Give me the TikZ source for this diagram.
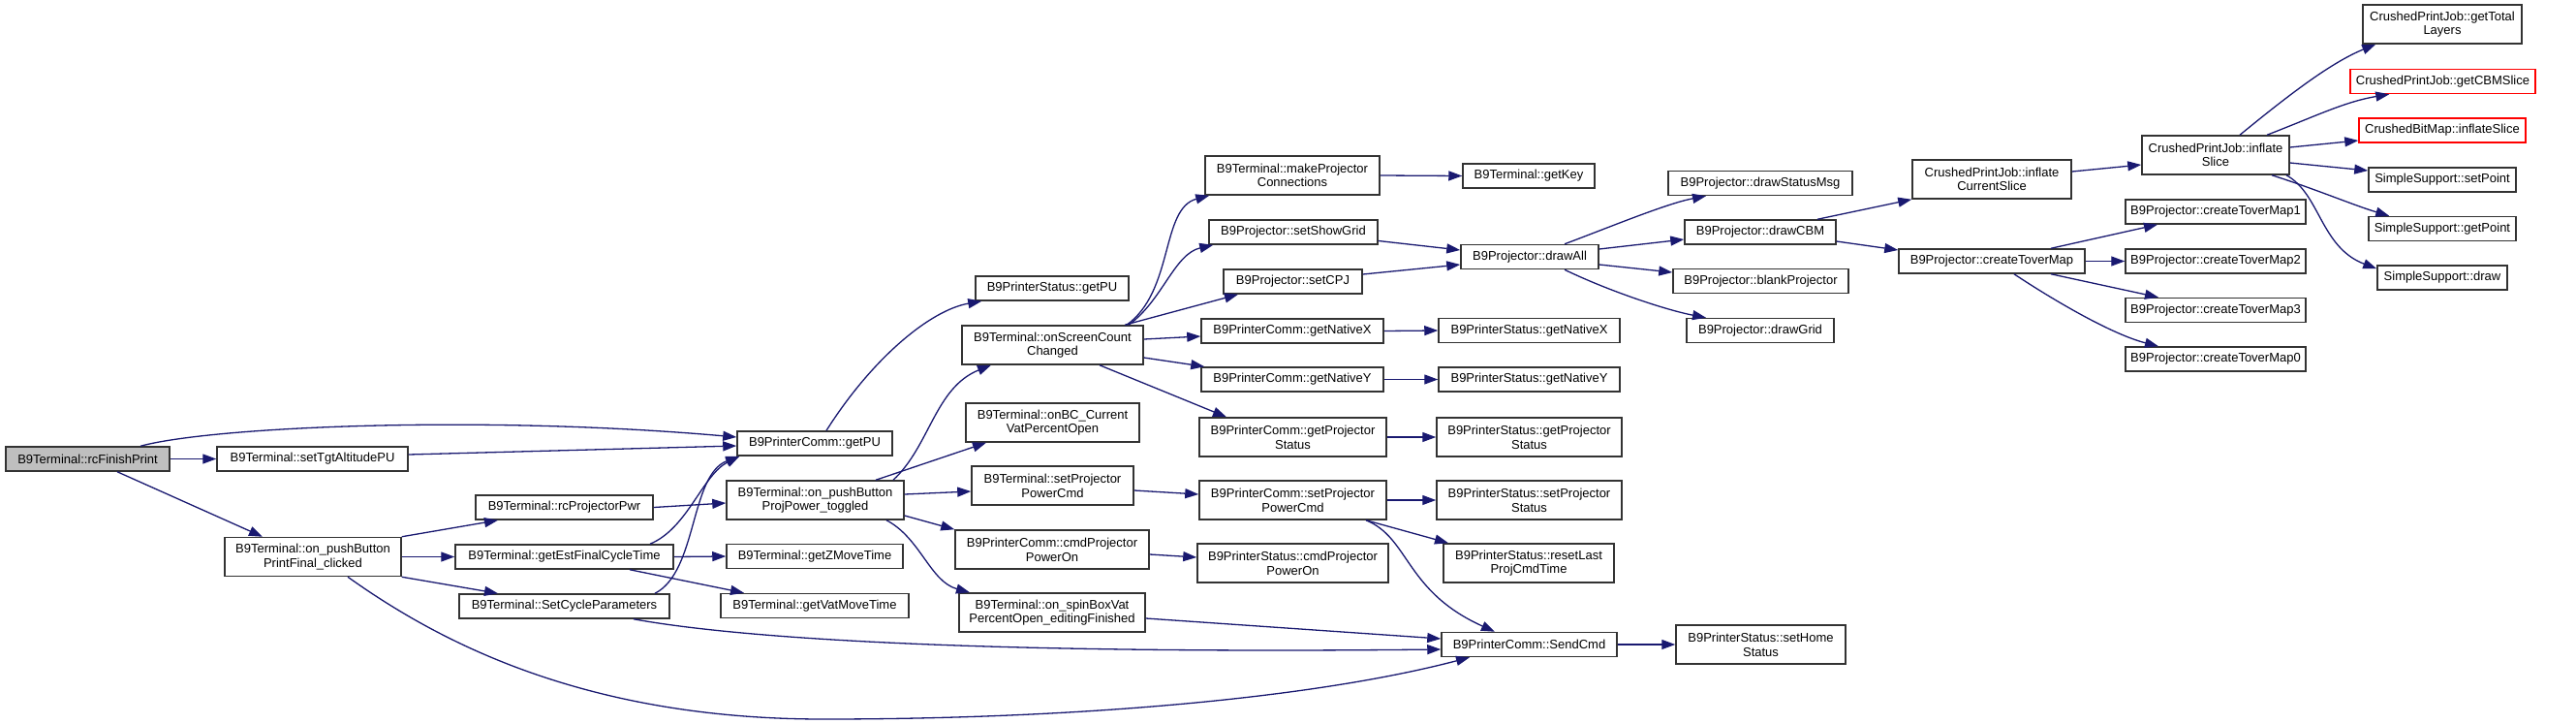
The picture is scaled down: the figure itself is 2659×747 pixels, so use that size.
\documentclass[tikz,border=0pt]{standalone}
\usepackage{fontspec}
\setmainfont{Liberation Sans}
\usetikzlibrary{arrows.meta}
\definecolor{edgec}{HTML}{191970}
\definecolor{boxc}{HTML}{333333}
\definecolor{grayfill}{HTML}{BFBFBF}
\definecolor{redc}{HTML}{FF0000}
\tikzset{
  fn/.style={draw=boxc, line width=1.5pt, rectangle, inner sep=0pt, align=center,
    font=\fontsize{13}{14.7}\selectfont, fill=white},
  one/.style={fn, minimum height=25pt},
  two/.style={fn, minimum height=40pt},
  redfn/.style={one, draw=redc},
  call/.style={draw=edgec, line width=1.3pt, -{Triangle[length=14pt,width=10pt]}}
}
\begin{document}
\begin{tikzpicture}[x=1pt,y=-1pt]
\path[use as bounding box] (0,0) rectangle (2659,747);
% column -2/-1/0
\node[one, fill=grayfill, minimum width=169pt] (rcFP) at (90.5,473.5) {B9Terminal::rcFinishPrint};
\node[one, minimum width=197pt] (setTgt) at (322.5,473.5) {B9Terminal::setTgtAltitudePU};
\node[two, minimum width=182pt] (printFinal) at (323,574.5) {B9Terminal::on\_pushButton\\PrintFinal\_clicked};
\node[one, minimum width=183pt] (rcPP) at (582.5,523.5) {B9Terminal::rcProjectorPwr};
\node[one, minimum width=225pt] (getEst) at (582.5,574.5) {B9Terminal::getEstFinalCycleTime};
\node[one, minimum width=217pt] (setCyc) at (582.5,625.5) {B9Terminal::SetCycleParameters};
% column 1
\node[one, minimum width=160pt] (getPU) at (841,457.5) {B9PrinterComm::getPU};
\node[two, minimum width=183pt] (ProjPower) at (841.5,516) {B9Terminal::on\_pushButton\\ProjPower\_toggled};
\node[one, minimum width=182pt] (getZMove) at (841,574) {B9Terminal::getZMoveTime};
\node[one, minimum width=194pt] (getVatMove) at (841,625) {B9Terminal::getVatMoveTime};
% column 2
\node[one, minimum width=158pt] (statusGetPU) at (1086,297.5) {B9PrinterStatus::getPU};
\node[two, minimum width=187pt] (onScreen) at (1086.5,356) {B9Terminal::onScreenCount\\Changed};
\node[two, minimum width=179pt] (onBC) at (1086.5,436) {B9Terminal::onBC\_Current\\VatPercentOpen};
\node[two, minimum width=167pt] (TsetPPC) at (1086.5,501) {B9Terminal::setProjector\\PowerCmd};
\node[two, minimum width=200pt] (CcmdPPO) at (1086,567) {B9PrinterComm::cmdProjector\\PowerOn};
\node[two, minimum width=192pt] (spinBox) at (1086,632) {B9Terminal::on\_spinBoxVat\\PercentOpen\_editingFinished};
% column 3
\node[two, minimum width=180pt] (makeProj) at (1334,181) {B9Terminal::makeProjector\\Connections};
\node[one, minimum width=174pt] (showGrid) at (1335,239.5) {B9Projector::setShowGrid};
\node[one, minimum width=143pt] (setCPJ) at (1334.5,290.5) {B9Projector::setCPJ};
\node[one, minimum width=188pt] (CgetNX) at (1334,341.5) {B9PrinterComm::getNativeX};
\node[one, minimum width=188pt] (CgetNY) at (1334,391.5) {B9PrinterComm::getNativeY};
\node[two, minimum width=193pt] (CgetPS) at (1334.5,451) {B9PrinterComm::getProjector\\Status};
\node[two, minimum width=193pt] (CsetPPC) at (1334.5,516) {B9PrinterComm::setProjector\\PowerCmd};
\node[two, minimum width=197pt] (ScmdPPO) at (1334.5,581) {B9PrinterStatus::cmdProjector\\PowerOn};
% column 4
\node[one, minimum width=136pt] (getKey) at (1578,181.5) {B9Terminal::getKey};
\node[one, minimum width=142pt] (drawAll) at (1579,265) {B9Projector::drawAll};
\node[one, minimum width=187pt] (SgetNX) at (1578.5,341) {B9PrinterStatus::getNativeX};
\node[one, minimum width=187pt] (SgetNY) at (1578.5,391.5) {B9PrinterStatus::getNativeY};
\node[two, minimum width=191pt] (SgetPS) at (1578.5,451) {B9PrinterStatus::getProjector\\Status};
\node[two, minimum width=191pt] (SsetPS) at (1578.5,516) {B9PrinterStatus::setProjector\\Status};
\node[two, minimum width=176pt] (resetLast) at (1578,581) {B9PrinterStatus::resetLast\\ProjCmdTime};
\node[one, minimum width=181pt] (SendCmd) at (1578.5,665) {B9PrinterComm::SendCmd};
% column 5
\node[one, minimum width=190pt] (drawSM) at (1817,189) {B9Projector::drawStatusMsg};
\node[one, minimum width=156pt] (drawCBM) at (1817,239.5) {B9Projector::drawCBM};
\node[one, minimum width=181pt] (blankP) at (1817.5,290) {B9Projector::blankProjector};
\node[one, minimum width=152pt] (drawGrid) at (1817,341) {B9Projector::drawGrid};
\node[two, minimum width=175pt] (setHome) at (1817.5,665) {B9PrinterStatus::setHome\\Status};
% column 6
\node[two, minimum width=164pt] (inflateCS) at (2056,185) {CrushedPrintJob::inflate\\CurrentSlice};
\node[one, minimum width=192pt] (createTM) at (2056,269.5) {B9Projector::createToverMap};
% column 7
\node[two, minimum width=152pt] (inflateSlice) at (2287,160) {CrushedPrintJob::inflate\\Slice};
\node[one, minimum width=186pt] (TM1) at (2287,218.5) {B9Projector::createToverMap1};
\node[one, minimum width=186pt] (TM2) at (2287,269.5) {B9Projector::createToverMap2};
\node[one, minimum width=186pt] (TM3) at (2287,320) {B9Projector::createToverMap3};
\node[one, minimum width=186pt] (TM0) at (2287,370.5) {B9Projector::createToverMap0};
% column 8
\node[two, minimum width=164pt] (getTotal) at (2521,25) {CrushedPrintJob::getTotal\\Layers};
\node[redfn, minimum width=191pt] (getCBM) at (2521.5,84) {CrushedPrintJob::getCBMSlice};
\node[redfn, minimum width=172pt] (CBMinflate) at (2521,134.5) {CrushedBitMap::inflateSlice};
\node[one, minimum width=152pt] (setPoint) at (2521,185.5) {SimpleSupport::setPoint};
\node[one, minimum width=152pt] (getPoint) at (2521,236) {SimpleSupport::getPoint};
\node[one, minimum width=134pt] (drawSS) at (2521,286.5) {SimpleSupport::draw};

% edges
\draw[call] ([xshift=54.5pt]rcFP.north) .. controls (220,440) and (500,428) .. ([yshift=6.5pt]getPU.west);
\draw[call] (rcFP.east) -- (setTgt.west);
\draw[call] ([xshift=30.5pt]rcFP.south) -- ([xshift=-52pt]printFinal.north);
\draw[call] ([yshift=4.5pt]setTgt.east) -- ([yshift=-2.5pt]getPU.west);
\draw[call] (printFinal.north east) -- ([xshift=-68.5pt]rcPP.south);
\draw[call] (printFinal.east) -- (getEst.west);
\draw[call] (printFinal.south east) -- ([xshift=-68.5pt]setCyc.north);
\draw[call] ([xshift=36pt]printFinal.south) .. controls (450,660) and (600,742) .. (850,742) .. controls (1100,742) and (1350,722) .. ([xshift=-61.5pt]SendCmd.south);
\draw[call] (rcPP.east) -- ([yshift=-3pt]ProjPower.west);
\draw[call] ([xshift=88.5pt]getEst.north) .. controls (710,545) and (725,490) .. ([xshift=3pt]getPU.south west);
\draw[call] (getEst.east) -- (getZMove.west);
\draw[call] ([xshift=67.5pt]getEst.south) -- ([xshift=-73pt]getVatMove.north);
\draw[call] ([xshift=93.5pt]setCyc.north) .. controls (720,590) and (712,490) .. ([xshift=3pt]getPU.south west);
\draw[call] ([xshift=71.5pt]setCyc.south) .. controls (760,658) and (1000,675) .. ([yshift=-5pt]SendCmd.west);
\draw[call] ([xshift=12pt]getPU.north) .. controls (900,370) and (960,320) .. ([xshift=7pt]statusGetPU.south west);
\draw[call] ([xshift=80.5pt]ProjPower.north) .. controls (960,460) and (965,400) .. ([xshift=-63.5pt]onScreen.south);
\draw[call] ([xshift=62.5pt]ProjPower.north) -- ([xshift=-68.5pt]onBC.south);
\draw[call] ([yshift=6pt]ProjPower.east) -- ([yshift=-6pt]TsetPPC.west);
\draw[call] ([yshift=-16pt]ProjPower.east) -- (CcmdPPO.north west);
\draw[call] ([xshift=73.5pt]ProjPower.south) .. controls (950,555) and (960,600) .. ([xshift=-85pt]spinBox.north);
\draw[call] ([xshift=76.5pt]onScreen.north) .. controls (1212,300) and (1198,215) .. ([xshift=5pt]makeProj.south west);
\draw[call] ([xshift=78.5pt]onScreen.north) .. controls (1200,310) and (1212,262) .. ([xshift=5pt]showGrid.south west);
\draw[call] ([xshift=74.5pt]onScreen.north) -- ([xshift=-56.5pt]setCPJ.south);
\draw[call] ([yshift=6pt]onScreen.east) -- ([yshift=-5.5pt]CgetNX.west);
\draw[call] ([yshift=-13pt]onScreen.east) -- ([xshift=4pt]CgetNY.north west);
\draw[call] ([xshift=48.5pt]onScreen.south) -- ([xshift=-68.5pt]CgetPS.north);
\draw[call] ([yshift=-5pt]TsetPPC.east) -- ([yshift=6pt]CsetPPC.west);
\draw[call] ([yshift=-5pt]CcmdPPO.east) -- ([yshift=6pt]ScmdPPO.west);
\draw[call] ([yshift=-6pt]spinBox.east) -- ([yshift=6pt]SendCmd.west);
\draw[call] (makeProj.east) -- (getKey.west);
\draw[call] ([yshift=-9pt]showGrid.east) -- ([yshift=7pt]drawAll.west);
\draw[call] ([yshift=7.5pt]setCPJ.east) -- ([yshift=-8pt]drawAll.west);
\draw[call] (CgetNX.east) -- (SgetNX.west);
\draw[call] (CgetNY.east) -- (SgetNY.west);
\draw[call] (CgetPS.east) -- (SgetPS.west);
\draw[call] (CsetPPC.east) -- (SsetPS.west);
\draw[call] ([xshift=75.5pt]CsetPPC.south) -- ([xshift=-83pt]resetLast.north);
\draw[call] ([xshift=75.5pt]CsetPPC.south) .. controls (1455,555) and (1450,610) .. ([xshift=-35.5pt]SendCmd.north);
\draw[call] (SendCmd.east) -- (setHome.west);
\draw[call] ([xshift=36pt]drawAll.north) .. controls (1660,235) and (1720,210) .. ([xshift=-56pt]drawSM.south);
\draw[call] ([yshift=8pt]drawAll.east) -- ([yshift=-7.5pt]drawCBM.west);
\draw[call] ([yshift=-8pt]drawAll.east) -- ([yshift=9pt]blankP.west);
\draw[call] ([xshift=36pt]drawAll.south) .. controls (1660,300) and (1720,320) .. ([xshift=-56pt]drawGrid.north);
\draw[call] ([xshift=59pt]drawCBM.north) -- (inflateCS.south west);
\draw[call] ([yshift=-9.5pt]drawCBM.east) -- ([yshift=11.5pt]createTM.west);
\draw[call] ([yshift=8pt]inflateCS.east) -- ([yshift=-10pt]inflateSlice.west);
\draw[call] ([xshift=61pt]createTM.north) -- ([xshift=-60pt]TM1.south);
\draw[call] (createTM.east) -- (TM2.west);
\draw[call] ([xshift=61pt]createTM.south) -- ([xshift=-59pt]TM3.north);
\draw[call] ([xshift=23pt]createTM.south) .. controls (2120,310) and (2180,345) .. ([xshift=-59pt]TM0.north);
\draw[call] ([xshift=25pt]inflateSlice.north) .. controls (2360,100) and (2405,65) .. ([xshift=14pt]getTotal.south west);
\draw[call] ([xshift=53pt]inflateSlice.north) .. controls (2390,120) and (2420,105) .. ([xshift=41pt]getCBM.south west);
\draw[call] ([yshift=8pt]inflateSlice.east) -- ([yshift=-10.5pt]CBMinflate.west);
\draw[call] ([yshift=-8pt]inflateSlice.east) -- ([yshift=9.5pt]setPoint.west);
\draw[call] ([xshift=58pt]inflateSlice.south) .. controls (2390,195) and (2430,212) .. ([xshift=22pt]getPoint.north west);
\draw[call] ([xshift=73pt]inflateSlice.south) .. controls (2395,200) and (2395,255) .. ([yshift=-4pt]drawSS.north west);
\end{tikzpicture}
\end{document}
